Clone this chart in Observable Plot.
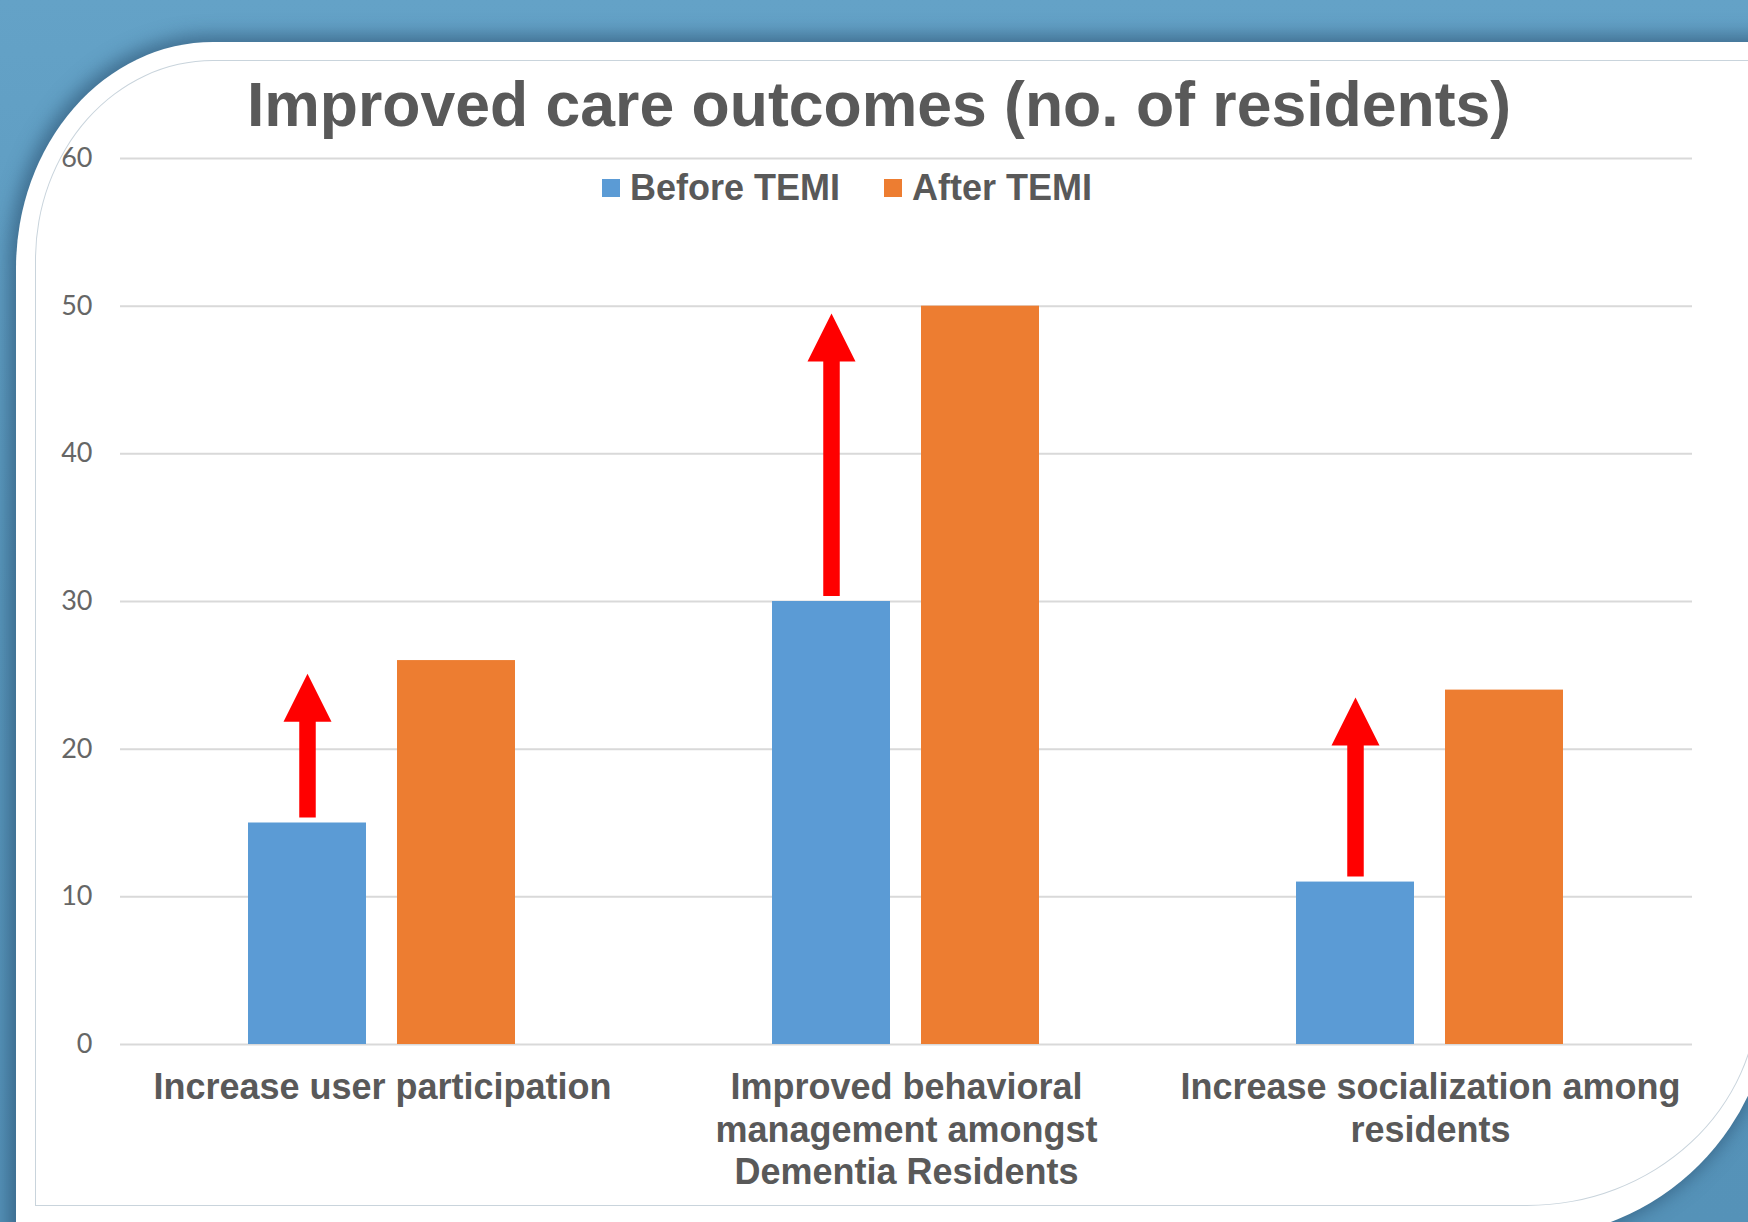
<!DOCTYPE html>
<html>
<head>
<meta charset="utf-8">
<script src="https://cdn.jsdelivr.net/npm/d3@7"></script>
<script src="https://cdn.jsdelivr.net/npm/@observablehq/plot@0.6"></script>
<style>
  html, body { margin: 0; padding: 0; background: #5a98bd; }
  #page {
    position: relative; width: 1748px; height: 1222px; overflow: hidden;
    background: linear-gradient(180deg, #64a2c7 0%, #5896bb 50%, #5592b8 100%);
  }
  #panel {
    position: absolute; left: 16px; top: 41.5px; width: 1756px; height: 1196px;
    background: #ffffff;
    border-top-left-radius: 197px 226px;
    border-bottom-right-radius: 249px 249px;
    box-shadow: -2px -2px 18px 5px rgba(35, 70, 100, 0.55);
  }
  #outline {
    position: absolute; left: 34.5px; top: 60px; width: 1722px; height: 1144px;
    border: 1.5px solid #c9d4dc;
    border-top-left-radius: 178px 200px;
    border-bottom-right-radius: 232px 215px;
  }
  #title {
    position: absolute; left: 0; top: 73px; width: 1758px; text-align: center;
    font-family: "Liberation Sans", Arial, sans-serif; font-weight: bold;
    font-size: 62.5px; line-height: 62.5px; color: #595959; white-space: nowrap;
  }
  #legend {
    position: absolute; left: 602px; top: 169.5px; display: flex; align-items: center;
    font-family: "Liberation Sans", Arial, sans-serif; font-weight: bold;
    font-size: 36px; line-height: 36px; color: #595959; white-space: nowrap;
  }
  #legend .item { display: flex; align-items: center; margin-right: 44px; }
  #legend .sw { width: 18px; height: 18px; margin-right: 10px; }
  #chart { position: absolute; left: 40px; top: 130px; }
</style>
</head>
<body>
<div id="page">
  <div id="panel"></div>
  <div id="outline"></div>
  <div id="chart"></div>
  <div id="title"></div>
  <div id="legend"></div>
</div>
<script>
// ---- data ----
const titleText = "Improved care outcomes (no. of residents)";
const categories = [
  "Increase user participation",
  "Improved behavioral management amongst Dementia Residents",
  "Increase socialization among residents"
];
const categoryLabels = [
  "Increase user participation",
  "Improved behavioral\nmanagement amongst\nDementia Residents",
  "Increase socialization among\nresidents"
];
const series = ["Before TEMI", "After TEMI"];
const beforeValues = [15, 30, 11];
const afterValues = [26, 50, 24];
const arrowTips = [25.1, 49.5, 23.5];
const yTicks = [0, 10, 20, 30, 40, 50, 60];
const seriesColors = ["#5b9bd5", "#ed7d31"];

// ---- build tables ----
const bars = categories.flatMap((c, i) => [
  {category: c, series: series[0], value: beforeValues[i]},
  {category: c, series: series[1], value: afterValues[i]}
]);
const arrows = categories.map((c, i) => ({category: c, start: beforeValues[i], tip: arrowTips[i]}));
const labels = categories.map((c, i) => ({category: c, label: categoryLabels[i]}));

// filled arrow head glyph (tip at the anchor point)
const arrowHead = {
  draw(context) {
    context.moveTo(0, 0);
    context.lineTo(24, 48);
    context.lineTo(-24, 48);
    context.closePath();
  }
};

document.getElementById("title").textContent = titleText;
const legend = document.getElementById("legend");
series.forEach((s, i) => {
  const item = document.createElement("div");
  item.className = "item";
  const sw = document.createElement("div");
  sw.className = "sw";
  sw.style.background = seriesColors[i];
  const t = document.createElement("span");
  t.textContent = s;
  item.appendChild(sw);
  item.appendChild(t);
  legend.appendChild(item);
});

const chart = Plot.plot({
  width: 1680,
  height: 1080,
  marginLeft: 80,
  marginRight: 28,
  marginTop: 28,
  marginBottom: 166,
  style: {fontFamily: "Lato, sans-serif", fontSize: "27px", color: "#666666", background: "transparent", overflow: "visible"},
  fx: {domain: categories, padding: 0, axis: null},
  x: {domain: series, paddingInner: 0.208, paddingOuter: 0.862, axis: null},
  y: {domain: [0, 60]},
  color: {domain: series, range: seriesColors},
  marks: [
    Plot.gridY(yTicks, {stroke: "#d9d9d9", strokeOpacity: 1, strokeWidth: 2}),
    Plot.axisY(yTicks, {tickSize: 0, tickPadding: 28, label: null, fontSize: 27}),
    Plot.barY(bars, {fx: "category", x: "series", y: "value", fill: "series"}),
    Plot.ruleX(arrows, {fx: "category", x: () => series[0], y1: "tip", y2: "start", stroke: "#ff0000", strokeWidth: 16.5, insetTop: 44, insetBottom: 5}),
    Plot.dot(arrows, {fx: "category", x: () => series[0], y: "tip", symbol: arrowHead, fill: "#ff0000", stroke: null, r: 10}),
    Plot.text(labels, {fx: "category", text: "label", frameAnchor: "bottom", lineAnchor: "top", dy: 25, lineHeight: 1.17,
      fontFamily: "Liberation Sans, Arial, sans-serif", fontWeight: "bold", fontSize: 36, fill: "#595959"})
  ]
});
document.getElementById("chart").appendChild(chart);
</script>
</body>
</html>
